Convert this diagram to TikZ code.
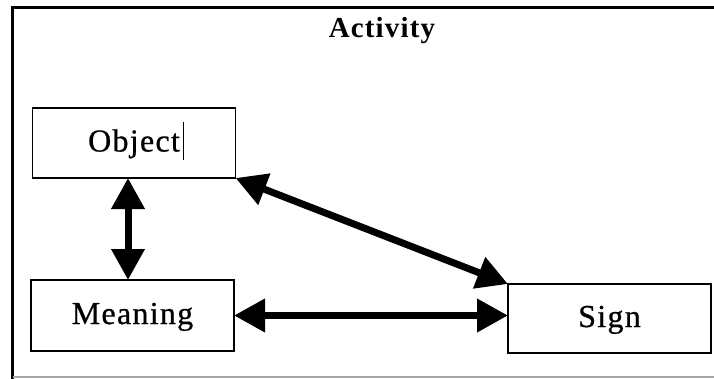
\documentclass[tikz,border=0pt]{standalone}
\usepackage{fontspec}
\setmainfont{Liberation Serif}[LetterSpace=4]
\newfontfamily\boxfont{Liberation Serif}[LetterSpace=4, FakeBold=0.7]
\usetikzlibrary{arrows.meta}
\tikzset{
  box/.style={draw=black, line width=1.4pt, rectangle, inner sep=0pt, outer sep=0pt,
    minimum width=203pt, text height=25pt, text depth=8pt,
    font=\boxfont\fontsize{32}{32}\selectfont},
  dbl/.style={line width=7pt, {Triangle[length=31pt,width=32pt]}-{Triangle[length=31pt,width=32pt]}},
}
\begin{document}
\begin{tikzpicture}[x=1pt,y=-1pt]
\useasboundingbox (0,0) rectangle (714,378);
% frame
\draw[line width=3pt] (12.5,380) -- (12.5,7.5) -- (716,7.5);
\draw[gray!70, line width=1.2pt] (12.5,377) -- (716,377);
\node[font=\bfseries\fontsize{29}{29}\selectfont, anchor=base] (title) at (382,37) {Activity};
% boxes
\node[box, minimum height=70pt] (obj) at (134,143) {Object};
\node[box, minimum height=71pt] (mean) at (132.5,315.5) {Meaning};
\node[box, minimum height=69pt] (sign) at (609.5,318.5) {Sign};
% cursor
\draw[line width=1pt] (183,122) -- (183,160);
% arrows
\draw[dbl] ([xshift=-6pt]obj.south) -- ([xshift=-6pt]obj.south |- mean.north);
\draw[dbl] (obj.south east) -- (sign.north west);
\draw[dbl] (mean.east) -- (mean.east -| sign.west);
\end{tikzpicture}
\end{document}
